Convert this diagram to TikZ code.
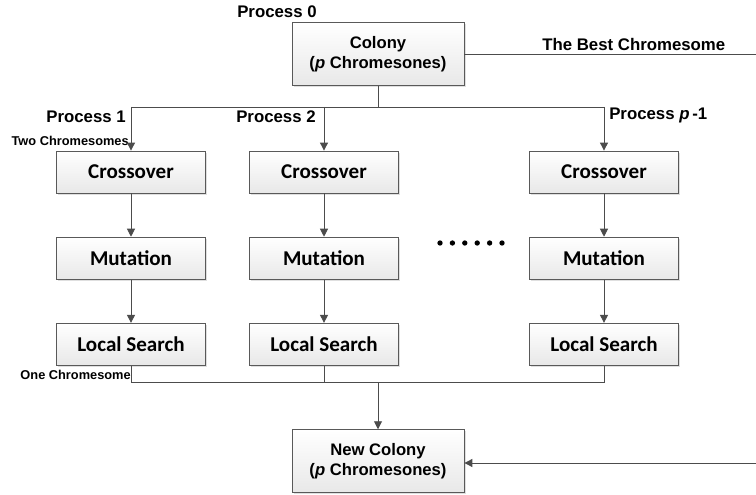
\documentclass[tikz,border=0pt]{standalone}
\usepackage{fontspec}
\setmainfont{Liberation Sans}
\newfontfamily\calib{Carlito}
\usetikzlibrary{positioning,arrows.meta,shadows}

\tikzset{
  stage/.style={draw=black!65, line width=0.6pt, minimum width=112pt, minimum height=31.5pt,
    top color=white, bottom color=black!9,
    drop shadow={shadow xshift=1.2pt, shadow yshift=-1.2pt, opacity=0.25},
    font=\calib\bfseries\fontsize{15.8}{18}\selectfont},
  colony/.style={stage, minimum width=129pt, minimum height=47pt, align=center,
    font=\bfseries\fontsize{12.5}{15}\selectfont},
  link/.style={draw=black!70, line width=0.7pt},
  flow/.style={link, -{Triangle[width=6pt,length=6pt]}},
  plabel/.style={font=\bfseries\fontsize{12.6}{14}\selectfont, inner sep=0pt},
  clabel/.style={font=\bfseries\fontsize{9.6}{11}\selectfont, inner sep=0pt}
}

\begin{document}
\begin{tikzpicture}[x=0.75pt, y=-0.75pt, node distance=32.5pt]
\useasboundingbox (0,0) rectangle (756,495);

% master
\node[colony] (col) at (378,54) {Colony\\(\textit{p} Chromesones)};
\node[plabel, anchor=south west] (p0) at (237,18) {Process 0};

% three workers
\node[stage] (cross1) at (131,172) {Crossover};
\node[stage] (cross2) at (324,172) {Crossover};
\node[stage] (cross3) at (604,172) {Crossover};
\node[stage, below=of cross1] (mut1) {Mutation};
\node[stage, below=of cross2] (mut2) {Mutation};
\node[stage, below=of cross3] (mut3) {Mutation};
\node[stage, below=of mut1] (ls1) {Local Search};
\node[stage, below=of mut2] (ls2) {Local Search};
\node[stage, below=of mut3] (ls3) {Local Search};

\node[colony] (newcol) at (378,461) {New Colony\\(\textit{p} Chromesones)};

\coordinate (split) at (378,107);
\coordinate (join) at (378,382);
\coordinate (bestout) at (756,54);
\coordinate (bestin) at (756,463);

% labels
\node[plabel, anchor=south east] (p1) at (126,123) {Process 1};
\node[plabel, anchor=south west] (p2) at (236,123) {Process 2};
\node[plabel, anchor=south west] (p3) at (609,123) {Process \textit{p}\,-1};
\node[plabel, anchor=south west] (best) at (542,51) {The Best Chromesome};
\node[clabel, anchor=base east] (two) at (129,146) {Two Chromesomes};
\node[clabel, anchor=base east] (one) at (131,379) {One Chromesome};

% scatter
\draw[link] (col) -- (split);
\draw[link] (split -| cross1) -- (split -| cross3);
\draw[flow] (split -| cross1) -- (cross1);
\draw[flow] (split -| cross2) -- (cross2);
\draw[flow] (split -| cross3) -- (cross3);

\draw[flow] (cross1) -- (mut1);
\draw[flow] (cross2) -- (mut2);
\draw[flow] (cross3) -- (mut3);
\draw[flow] (mut1) -- (ls1);
\draw[flow] (mut2) -- (ls2);
\draw[flow] (mut3) -- (ls3);

% gather
\draw[link] (ls1) |- (join);
\draw[link] (ls3) |- (join);
\draw[link] (ls2) -- (ls2 |- join);
\draw[flow] (join) -- (newcol);

% best chromosome
\draw[link] (col) -- (bestout);
\draw[flow] (bestin) -- (newcol.east |- bestin);

\foreach \i in {0,...,5}
  \fill (440+\i*12.4,243) circle (2pt);
\end{tikzpicture}
\end{document}
